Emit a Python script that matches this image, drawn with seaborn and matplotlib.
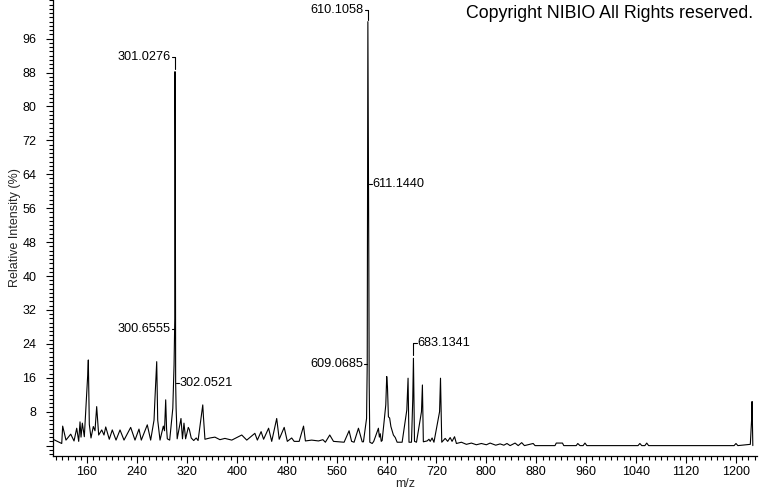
import matplotlib
matplotlib.use("Agg")
import matplotlib.pyplot as plt
import seaborn as sns
import pandas as pd
from matplotlib.ticker import MultipleLocator, FixedLocator

# profile spectrum vertices (m/z, relative intensity %)
mz = [105.5, 119.5, 121, 126.3, 133.9, 139.2, 143.5, 146.7, 148.8, 150.4, 152.5, 155.7,
      161.1, 162.1, 163.7, 166.4, 170.1, 172.8, 174.4, 175.5, 178.7, 183.6, 187.2, 190,
      195.7, 200.5, 206.5, 212.9, 219.3, 230, 236.9, 243.3, 247, 256.6, 262, 267.4, 268.8,
      271.7, 273.3, 277, 282.3, 284.2, 286.1, 287.5, 288.7, 292.5, 297.5, 299.5, 300.66,
      301.03, 301.5, 302.05, 302.8, 304.5, 310.6, 313, 315.4, 318, 322.3, 324, 327, 331,
      335, 338, 345.5, 346.5, 349, 357, 365, 373, 381, 392, 408, 416, 429, 433, 439, 443,
      451, 456, 464, 468, 476, 481, 488, 492, 500, 507, 510, 520, 531, 538, 542, 549, 555,
      572, 580, 584, 588, 595, 601, 603, 608, 609.07, 609.6, 610.1, 611.14, 611.6, 612.2,
      613.2, 617, 619.5, 627, 628.5, 630, 631.5, 633, 638.8, 640.3, 641.5, 643, 645, 647,
      649, 651, 654, 657, 665, 672.5, 674.5, 676, 680, 682, 683.13, 684.8, 688, 696, 697.5,
      699, 705, 708, 710, 713, 716, 725, 726.5, 728.5, 734, 738, 742, 745, 749, 752, 760,
      768, 776, 784, 792, 800, 806, 815, 822, 828, 833, 838, 846, 851, 856.6, 861, 875,
      878, 910, 912, 922, 924, 944, 946.5, 950, 955, 958, 961, 1043, 1046, 1049, 1054,
      1057, 1060, 1197, 1200, 1203, 1223, 1225, 1225.8, 1226.3, 1227]
intensity = [1.5, 0.5, 4.6, 1.3, 2.7, 1.1, 4.1, 1.0, 5.6, 2.0, 5.3, 2.1,
             16.6, 20.2, 5.0, 1.8, 4.5, 3.5, 7.0, 9.2, 2.5, 3.7, 2.5, 4.4,
             1.5, 3.7, 1.3, 3.7, 1.3, 4.3, 1.3, 3.9, 1.3, 4.9, 1.3, 6.0, 10.8,
             19.8, 6.0, 1.3, 4.6, 3.5, 10.8, 4.0, 1.6, 1.3, 8.8, 19.0, 30.0,
             88.2, 68.8, 15.0, 8.8, 1.6, 6.4, 1.6, 5.3, 1.6, 4.3, 3.8, 1.8, 1.2,
             1.8, 1.2, 9.6, 7.0, 1.5, 1.8, 2.0, 1.4, 1.7, 1.3, 2.5, 1.3, 2.9, 1.3, 3.3, 1.5,
             4.1, 1.0, 6.4, 1.5, 4.3, 1.0, 1.8, 1.0, 1.0, 4.6, 1.1, 1.3, 1.1, 1.4, 0.8, 2.5, 1.0,
             0.8, 3.5, 1.0, 0.8, 4.1, 0.9, 0.9, 6.4, 19.2, 58.0, 100.0, 61.7, 43.7, 15.0,
             0.8, 0.5, 1.0, 4.1, 2.0, 2.8, 1.0, 1.2, 9.6, 16.3, 13.9, 6.8, 6.5, 4.5,
             3.5, 2.5, 1.9, 0.8, 0.8, 8.4, 15.9, 0.8, 0.8, 10.8, 20.6, 1.0, 0.8, 8.0, 14.3,
             0.9, 1.1, 1.5, 1.0, 1.8, 0.8, 8.0, 15.9, 0.8, 1.7, 1.0, 1.9, 1.0, 2.1, 0.5, 0.8,
             0.3, 0.6, 0.2, 0.5, 0.2, 0.6, 0.1, 0.4, 0.1, 0.5, 0.0, 0.6, 0.0, 0.7, 0.0, 0.5,
             0.0, 0.0, 0.6, 0.6, 0.0, 0.0, 0.5, 0.0, 0.0, 0.6, 0.0, 0.0, 0.5, 0.0, 0.0,
             0.6, 0.0, 0.0, 0.5, 0.0, 0.3, 6.0, 10.4, 6.0, 0.0]

# labelled peaks: m/z, label height, side of text, bracket drop (0 = plain tick)
label_mz = [301.0276, 300.6555, 302.0521, 610.1058, 611.1440, 609.0685, 683.1341]
label_level = [91.6, 27.4, 14.7, 102.7, 61.7, 19.2, 24.2]
label_side = ['left', 'left', 'right', 'left', 'right', 'left', 'right']
label_drop = [2.7, 0, 0, 2.3, 0, 0, 2.8]

df = pd.DataFrame({'mz': mz, 'intensity': intensity})

sns.set_style('ticks')
plt.rcParams['font.family'] = ['Liberation Sans', 'DejaVu Sans']

fig = plt.figure(figsize=(7.6, 4.92), dpi=100)
ax = fig.add_axes([53 / 760, 36 / 492, 704 / 760, 456 / 492])

sns.lineplot(data=df, x='mz', y='intensity', ax=ax, color='black', lw=0.8,
             estimator=None, sort=False)

ax.set_xlim(105.5, 1233.7)
ax.set_ylim(-2.45, 105.1)
sns.despine(ax=ax)
for s in ['left', 'bottom']:
    ax.spines[s].set_linewidth(0.9)
    ax.spines[s].set_color('black')

ax.xaxis.set_major_locator(MultipleLocator(80))
ax.xaxis.set_minor_locator(MultipleLocator(10))
ax.yaxis.set_major_locator(FixedLocator(list(range(0, 97, 8))))
ax.yaxis.set_minor_locator(MultipleLocator(1))
ax.set_yticklabels([''] + [str(v) for v in range(8, 97, 8)])
ax.tick_params(axis='both', which='major', length=5, width=0.8, color='black',
               labelsize=9, labelcolor='black')
ax.tick_params(axis='both', which='minor', length=3, width=0.8, color='black')
ax.tick_params(axis='y', which='major', pad=7)
ax.tick_params(axis='x', which='major', pad=2)

ax.set_xlabel('m/z', fontsize=9, labelpad=0)
ax.set_ylabel('Relative Intensity (%)', fontsize=9, labelpad=1)

dx = 5.0
for m, lev, side, drop, in zip(label_mz, label_level, label_side, label_drop):
    sign = -1 if side == 'left' else 1
    ax.plot([m, m + sign * dx], [lev, lev], color='black', lw=0.8)
    if drop:
        ax.plot([m, m], [lev, lev - drop], color='black', lw=0.8)
    ax.text(m + sign * (dx + 1.5), lev, f'{m:.4f}', ha='right' if side == 'left' else 'left',
            va='center', fontsize=9.2, color='black')

fig.text(753 / 760, 1 - 14 / 492, 'Copyright NIBIO All Rights reserved.', ha='right',
         va='center', fontsize=12.8, color='black')

fig.savefig('out.png', dpi=100)
